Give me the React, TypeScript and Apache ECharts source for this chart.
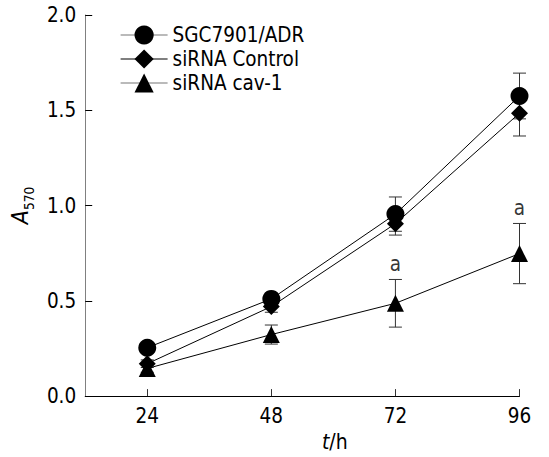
import React, { useEffect, useRef } from "react";
import * as echarts from "echarts";

const hours = [24, 48, 72, 96];
const seriesNames = ["SGC7901/ADR", "siRNA Control", "siRNA cav-1"];
const sgcMean = [0.254, 0.51, 0.955, 1.575];
const sgcErr = [0.02, 0.03, 0.09, 0.12];
const ctrlMean = [0.17, 0.47, 0.905, 1.485];
const ctrlErr = [0.02, 0.03, 0.06, 0.12];
const cavMean = [0.145, 0.323, 0.487, 0.748];
const cavErr = [0.02, 0.05, 0.125, 0.158];
const sigHours = [72, 96];
const sigLabel = "a";
const xAxisName = "{i|t}/h";
const yAxisName = "{i|A}{s|570}";

const FONT = "'DejaVu Sans Condensed', 'DejaVu Sans', sans-serif";
const FS = 20.5;

export default function App() {
  const ref = useRef<HTMLDivElement>(null);
  useEffect(() => {
    if (!ref.current) return;
    const chart = echarts.init(ref.current, undefined, { renderer: "svg" });
    const means = [sgcMean, ctrlMean, cavMean];
    const errs = [sgcErr, ctrlErr, cavErr];
    const symbols = ["circle", "diamond", "triangle"];
    const sizes = [18, 17, 17];
    const legendLine = ["#777", "#000", "#777"];

    const errSeries = means.map((m, si) => ({
      type: "custom",
      name: "err" + si,
      z: 1,
      silent: true,
      encode: { x: 0, y: [1, 2] },
      data: hours.map((h, i) => [h, m[i] - errs[si][i], m[i] + errs[si][i]]),
      renderItem: (params: any, api: any) => {
        const x = api.value(0);
        const lo = api.coord([x, api.value(1)]);
        const hi = api.coord([x, api.value(2)]);
        const w = 6.5;
        const style = { stroke: "#333", lineWidth: 1 };
        return {
          type: "group",
          children: [
            { type: "line", shape: { x1: lo[0], y1: lo[1], x2: hi[0], y2: hi[1] }, style },
            { type: "line", shape: { x1: lo[0] - w, y1: lo[1], x2: lo[0] + w, y2: lo[1] }, style },
            { type: "line", shape: { x1: hi[0] - w, y1: hi[1], x2: hi[0] + w, y2: hi[1] }, style },
          ],
        };
      },
    }));

    const lineSeries = means.map((m, si) => ({
      type: "line",
      name: seriesNames[si],
      z: 3,
      data: hours.map((h, i) => [h, m[i]]),
      symbol: symbols[si],
      symbolSize: sizes[si],
      showSymbol: true,
      color: "#000",
      itemStyle: { color: "#000" },
      lineStyle: { color: "#000", width: 1 },
    }));

    const sigSeries = {
      type: "scatter",
      name: "sig",
      z: 4,
      symbolSize: 0,
      silent: true,
      data: sigHours.map((h) => {
        const i = hours.indexOf(h);
        return [h, cavMean[i] + cavErr[i]];
      }),
      label: {
        show: true,
        position: "top",
        distance: 5,
        formatter: sigLabel,
        color: "#000",
        fontSize: FS,
        fontFamily: FONT,
      },
    };

    chart.setOption({
      animation: false,
      backgroundColor: "#fff",
      grid: { left: 81.7, right: 29.5, top: 15, bottom: 55.5, containLabel: false },
      legend: {
        left: 115,
        top: 19.5,
        orient: "vertical",
        itemWidth: 47,
        itemHeight: 24,
        itemGap: 3,
        textStyle: { fontFamily: FONT, fontSize: FS, color: "#000" },
        data: seriesNames.map((n, i) => ({ name: n, lineStyle: { color: legendLine[i], width: 1.2 } })),
      },
      xAxis: {
        type: "value",
        min: 12,
        max: 96,
        name: xAxisName,
        nameLocation: "middle",
        nameGap: 30,
        nameTextStyle: {
          fontFamily: FONT,
          fontSize: 21,
          color: "#000",
          padding: [0, 0, 0, 65],
          rich: { i: { fontStyle: "italic", fontFamily: FONT, fontSize: 21, color: "#000" } },
        },
        splitLine: { show: false },
        axisLine: { show: true, lineStyle: { color: "#000", width: 1 } },
        axisTick: { show: true, inside: true, length: 7, customValues: hours, lineStyle: { color: "#333" } },
        axisLabel: { customValues: hours, fontFamily: FONT, fontSize: FS, color: "#000", margin: 9 },
      },
      yAxis: {
        type: "value",
        min: 0,
        max: 2,
        interval: 0.5,
        name: yAxisName,
        nameLocation: "middle",
        nameRotate: 90,
        nameGap: 47,
        nameTextStyle: {
          fontFamily: FONT,
          color: "#000",
          rich: {
            i: { fontStyle: "italic", fontFamily: FONT, fontSize: 23, color: "#000", verticalAlign: "bottom", padding: [0, 0, 5, 0] },
            s: { fontFamily: FONT, fontSize: 13.5, color: "#000", verticalAlign: "bottom" },
          },
        },
        splitLine: { show: false },
        axisLine: { show: true, lineStyle: { color: "#808080", width: 1 } },
        axisTick: { show: true, inside: true, length: 7, lineStyle: { color: "#000" } },
        axisLabel: {
          fontFamily: FONT,
          fontSize: FS,
          color: "#000",
          margin: 9,
          formatter: (v: number) => v.toFixed(1),
        },
      },
      series: [...errSeries, ...lineSeries, sigSeries],
    });
    return () => chart.dispose();
  }, []);
  return <div ref={ref} style={{ position: "fixed", left: 0, top: 0, width: 549, height: 457 }} />;
}
